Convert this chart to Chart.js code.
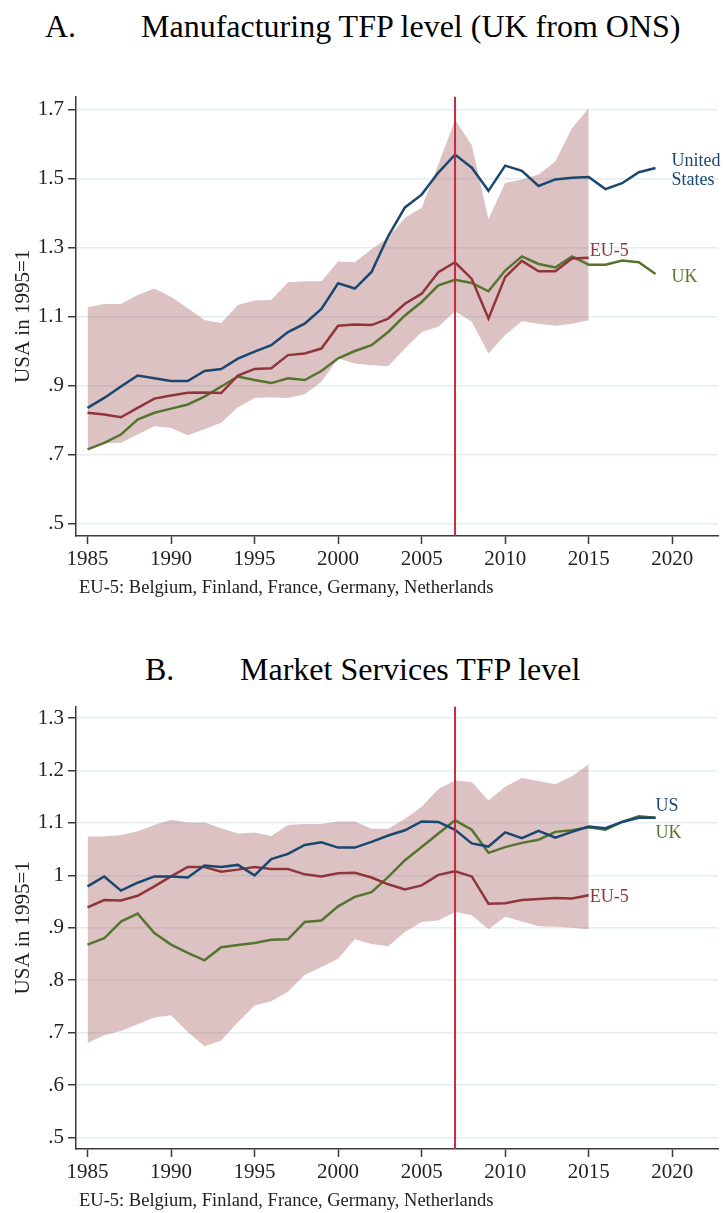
<!DOCTYPE html>
<html><head><meta charset="utf-8">
<script src="https://cdn.jsdelivr.net/npm/chart.js@4.4.1/dist/chart.umd.min.js"></script>
<style>
body{margin:0;background:#fff;width:725px;height:1213px;position:relative;overflow:hidden;font-family:"Liberation Serif","Times New Roman",serif;color:#000}
.t{position:absolute;font-size:32px;line-height:32px;white-space:pre}
.n{position:absolute;font-size:18.5px;line-height:18px;white-space:pre;color:#222}
canvas{position:absolute;left:0}
</style></head><body>
<div class="t" style="left:45px;top:10px">A.</div>
<div class="t" style="left:141px;top:10px">Manufacturing TFP level (UK from ONS)</div>
<canvas id="cA" width="725" height="520" style="top:80px"></canvas>
<div class="n" style="left:79px;top:578px">EU-5: Belgium, Finland, France, Germany, Netherlands</div>
<div class="t" style="left:145px;top:653px">B.</div>
<div class="t" style="left:240px;top:653px">Market Services TFP level</div>
<canvas id="cB" width="725" height="520" style="top:690px"></canvas>
<div class="n" style="left:79px;top:1191px">EU-5: Belgium, Finland, France, Germany, Netherlands</div>
<script>
// ---------- data ----------
const yearsLong = [1985,1986,1987,1988,1989,1990,1991,1992,1993,1994,1995,1996,1997,1998,1999,2000,2001,2002,2003,2004,2005,2006,2007,2008,2009,2010,2011,2012,2013,2014,2015,2016,2017,2018,2019];
const yearsEU = [1985,1986,1987,1988,1989,1990,1991,1992,1993,1994,1995,1996,1997,1998,1999,2000,2001,2002,2003,2004,2005,2006,2007,2008,2009,2010,2011,2012,2013,2014,2015];
const crisisYear = 2007;
const xTicks = [1985,1990,1995,2000,2005,2010,2015,2020];

// Panel A: Manufacturing
const usA = [0.835,0.864,0.897,0.929,0.921,0.913,0.913,0.942,0.948,0.978,0.998,1.017,1.055,1.079,1.122,1.196,1.181,1.229,1.333,1.416,1.453,1.517,1.569,1.531,1.464,1.537,1.522,1.478,1.497,1.502,1.504,1.469,1.486,1.518,1.530];
const euA = [0.821,0.816,0.808,0.835,0.862,0.871,0.879,0.880,0.878,0.929,0.948,0.950,0.988,0.993,1.007,1.073,1.077,1.075,1.094,1.137,1.166,1.228,1.257,1.209,1.094,1.214,1.261,1.231,1.231,1.268,1.270];
const ukA = [0.715,0.734,0.758,0.801,0.821,0.833,0.845,0.868,0.897,0.926,0.916,0.907,0.921,0.916,0.942,0.979,1.000,1.017,1.055,1.103,1.142,1.190,1.206,1.197,1.173,1.233,1.274,1.252,1.242,1.274,1.250,1.250,1.262,1.257,1.223];
const bandHiA = [1.127,1.136,1.136,1.162,1.181,1.157,1.124,1.090,1.081,1.133,1.146,1.148,1.199,1.202,1.202,1.259,1.257,1.295,1.329,1.386,1.415,1.540,1.669,1.597,1.382,1.487,1.497,1.511,1.549,1.645,1.703];
const bandLoA = [0.718,0.732,0.734,0.758,0.782,0.777,0.756,0.773,0.792,0.837,0.864,0.866,0.864,0.875,0.911,0.978,0.964,0.959,0.956,1.007,1.055,1.070,1.115,1.085,0.993,1.046,1.086,1.079,1.073,1.079,1.089];
const yTicksA = [0.5,0.7,0.9,1.1,1.3,1.5,1.7];
const yTickLabelsA = [".5",".7",".9","1.1","1.3","1.5","1.7"];

// Panel B: Market services
const usB = [0.979,0.998,0.971,0.986,0.998,0.998,0.996,1.019,1.016,1.020,1.000,1.031,1.041,1.058,1.063,1.053,1.053,1.064,1.076,1.086,1.103,1.102,1.087,1.061,1.055,1.082,1.071,1.085,1.072,1.083,1.093,1.090,1.102,1.110,1.110];
const euB = [0.939,0.953,0.952,0.961,0.979,0.998,1.016,1.016,1.007,1.011,1.016,1.012,1.012,1.002,0.998,1.004,1.005,0.996,0.983,0.973,0.981,1.001,1.008,0.998,0.946,0.947,0.953,0.955,0.957,0.956,0.962];
const ukB = [0.868,0.880,0.912,0.927,0.890,0.868,0.852,0.838,0.863,0.867,0.871,0.877,0.878,0.911,0.914,0.941,0.959,0.968,0.997,1.029,1.054,1.080,1.105,1.087,1.043,1.054,1.062,1.068,1.083,1.086,1.092,1.087,1.102,1.113,1.110];
const bandHiB = [1.074,1.074,1.077,1.084,1.096,1.106,1.101,1.101,1.090,1.080,1.082,1.075,1.096,1.098,1.098,1.103,1.103,1.089,1.089,1.108,1.131,1.165,1.181,1.178,1.143,1.169,1.186,1.180,1.174,1.189,1.212];
const bandLoB = [0.680,0.695,0.703,0.716,0.729,0.733,0.701,0.674,0.685,0.720,0.752,0.760,0.778,0.810,0.825,0.841,0.878,0.869,0.865,0.892,0.911,0.914,0.930,0.924,0.897,0.921,0.912,0.903,0.902,0.900,0.897];
const yTicksB = [0.5,0.6,0.7,0.8,0.9,1.0,1.1,1.2,1.3];
const yTickLabelsB = [".5",".6",".7",".8",".9","1","1.1","1.2","1.3"];

// ---------- styles ----------
const NAVY = '#1a476f', MAROON = '#90353b', GREEN = '#55752f', RED = '#c8283c';
const BAND = 'rgba(144,53,59,0.30)';
const AXIS = '#3a3a3a', GRID = '#e4eef2', TXT = '#222';
const FONT = '"Liberation Serif","Times New Roman",serif';

const pts = (xs, ys) => ys.map((v, i) => ({x: xs[i], y: v}));

const endLabels = {
  id: 'endLabels',
  afterDatasetsDraw(chart, args, opts) {
    const ctx = chart.ctx;
    ctx.save();
    ctx.font = '18px ' + FONT;
    ctx.textAlign = 'left';
    ctx.textBaseline = 'middle';
    (opts.items || []).forEach(it => {
      const meta = chart.getDatasetMeta(it.ds);
      const el = meta.data[meta.data.length - 1];
      ctx.fillStyle = it.color;
      it.lines.forEach((ln, k) => ctx.fillText(ln, el.x + it.dx, el.y + it.dy + k * 19));
    });
    ctx.restore();
  }
};

function makeChart(id, cfg) {
  const datasets = [
    {data: [{x: crisisYear, y: cfg.yMin}, {x: crisisYear, y: cfg.yMax}], borderColor: RED, borderWidth: 2, pointRadius: 0, fill: false},
    {data: pts(cfg.years, cfg.l1), borderColor: cfg.c1, borderWidth: 2.5, pointRadius: 0, fill: false},
    {data: pts(cfg.years2, cfg.l2), borderColor: cfg.c2, borderWidth: 2.5, pointRadius: 0, fill: false},
    {data: pts(cfg.years3, cfg.l3), borderColor: cfg.c3, borderWidth: 2.5, pointRadius: 0, fill: false},
    {data: pts(yearsEU, cfg.hi), borderWidth: 0, borderColor: 'rgba(0,0,0,0)', pointRadius: 0, fill: '+1', backgroundColor: BAND},
    {data: pts(yearsEU, cfg.lo), borderWidth: 0, borderColor: 'rgba(0,0,0,0)', pointRadius: 0, fill: false}
  ];
  return new Chart(document.getElementById(id), {
    type: 'line',
    data: {datasets},
    plugins: [endLabels],
    options: {
      responsive: false, animation: false, devicePixelRatio: 1,
      layout: {padding: {top: cfg.padTop, right: 7, left: 0, bottom: 0}},
      plugins: {legend: {display: false}, tooltip: {enabled: false}, endLabels: {items: cfg.labels}},
      elements: {line: {tension: 0}},
      scales: {
        x: {
          type: 'linear', min: 1984.31, max: 2022.74,
          afterBuildTicks: s => { s.ticks = xTicks.map(v => ({value: v})); },
          afterFit: s => { s.height = cfg.xAxisH; },
          grid: {drawOnChartArea: false, drawTicks: true, tickLength: 8, tickColor: AXIS, tickWidth: 1.5},
          border: {display: true, color: AXIS, width: 1.5},
          ticks: {font: {family: FONT, size: 21}, color: TXT, padding: 3, maxRotation: 0, autoSkip: false, callback: v => String(v)}
        },
        y: {
          type: 'linear', min: cfg.yMin, max: cfg.yMax,
          afterBuildTicks: s => { s.ticks = cfg.yTicks.map(v => ({value: v})); },
          afterFit: s => { s.width = 76; },
          grid: {color: GRID, lineWidth: 1.5, drawTicks: true, tickLength: 8, tickColor: AXIS, tickWidth: 1.5},
          border: {display: true, color: AXIS, width: 1.5},
          ticks: {font: {family: FONT, size: 21}, color: TXT, padding: 4, autoSkip: false,
                  callback: (v, i) => cfg.yTickLabels[i]},
          title: {display: true, text: 'USA in 1995=1', font: {family: FONT, size: 21}, color: TXT, padding: {top: 11, bottom: 0}}
        }
      }
    }
  });
}

makeChart('cA', {
  years: yearsLong, l1: usA, c1: NAVY,
  years2: yearsEU, l2: euA, c2: MAROON,
  years3: yearsLong, l3: ukA, c3: GREEN,
  hi: bandHiA, lo: bandLoA,
  yMin: 0.464, yMax: 1.737, yTicks: yTicksA, yTickLabels: yTickLabelsA,
  padTop: 13, xAxisH: 64,
  labels: [
    {ds: 1, lines: ['United', 'States'], dx: 16, dy: -7, color: NAVY},
    {ds: 2, lines: ['EU-5'], dx: 1, dy: -7, color: MAROON},
    {ds: 3, lines: ['UK'], dx: 16, dy: 3, color: GREEN}
  ]
});

makeChart('cB', {
  years: yearsLong, l1: usB, c1: NAVY,
  years2: yearsEU, l2: euB, c2: MAROON,
  years3: yearsLong, l3: ukB, c3: GREEN,
  hi: bandHiB, lo: bandLoB,
  yMin: 0.478, yMax: 1.322, yTicks: yTicksB, yTickLabels: yTickLabelsB,
  padTop: 16, xAxisH: 61,
  labels: [
    {ds: 1, lines: ['US'], dx: 0, dy: -11, color: NAVY},
    {ds: 2, lines: ['EU-5'], dx: 1, dy: 2, color: MAROON},
    {ds: 3, lines: ['UK'], dx: 0, dy: 16, color: GREEN}
  ]
});
</script>
</body></html>
